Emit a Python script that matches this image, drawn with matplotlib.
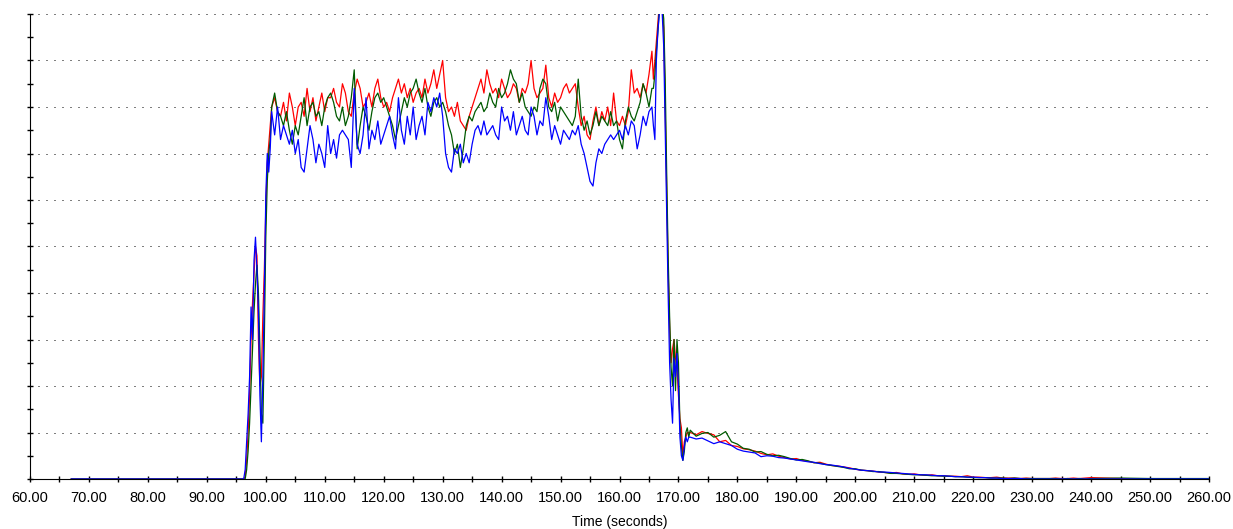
import numpy as np
import matplotlib
matplotlib.use("Agg")
import matplotlib.pyplot as plt
from matplotlib.ticker import MultipleLocator, FormatStrFormatter

# ------------------------------------------------------------
# Datos
# ------------------------------------------------------------
# tramos de tiempo (segundos)
t_base = [67.0, 96.25]
t_subida = np.arange(96.5, 101.0, 0.25)      # 18 muestras
t_meseta = np.arange(101.0, 166.0, 0.5)      # 130 muestras
t_caida = np.arange(165.75, 172.0, 0.25)     # 25 muestras
t_cola = np.arange(172.0, 241.0, 1.0)        # 69 muestras
t_final = [245.0, 250.0, 255.0, 260.0]

# --- serie roja ---
rojo_base = [0, 0]
rojo_subida = [0.5, 4, 10, 18, 30, 38, 44, 50, 48, 30, 20, 22, 35, 45, 58, 68, 72, 76]
rojo_meseta = [
    80, 82, 79, 78, 81, 77, 83, 80, 76, 80,
    81, 78, 84, 79, 82, 77, 80, 83, 79, 82,
    82, 84, 81, 80, 85, 83, 79, 78, 83, 86,
    84, 80, 81, 83, 80, 84, 86, 82, 80, 81,
    79, 82, 84, 86, 83, 85, 82, 84, 81, 83,
    84, 82, 86, 83, 85, 88, 84, 87, 90, 82,
    79, 80, 78, 81, 77, 76, 75, 78, 80, 82,
    84, 86, 83, 88, 85, 83, 84, 82, 86, 84,
    82, 83, 85, 84, 81, 84, 83, 85, 90, 84,
    82, 83, 84, 89, 82, 80, 83, 81, 82, 84,
    85, 83, 84, 85, 80, 76, 78, 74, 73, 77,
    80, 76, 79, 77, 80, 76, 83, 77, 76, 78,
    76, 79, 88, 83, 84, 82, 85, 83, 87, 92,
]
rojo_caida = [86, 90, 94, 98, 102, 104, 101, 97, 80, 62, 45, 33, 25,
              28, 30, 26, 24, 18, 13, 11, 5, 8, 9, 10, 10]
rojo_cola = [
    10, 9.5, 10.2, 9.8, 9.5, 8, 8.3, 7.2, 7, 6.5,
    6.3, 6, 5.5, 5.2, 5.4, 4.9, 4.6, 4.3, 4.4, 4.0,
    3.8, 3.5, 3.6, 3.2, 2.9, 2.8, 2.6, 2.4, 2.1, 1.9,
    1.8, 1.7, 1.5, 1.4, 1.3, 1.4, 1.1, 1.0, 1.1, 0.9,
    0.8, 0.9, 0.7, 0.7, 0.6, 0.6, 0.5, 0.7, 0.4, 0.4,
    0.3, 0.3, 0.4, 0.2, 0.2, 0.2, 0.1, 0.2, 0.1, 0.1,
    0.1, 0.1, 0.2, 0.1, 0.1, 0.2, 0.1, 0.2, 0.3,
]
rojo_final = [0.1, 0, 0, 0]

# --- serie verde ---
verde_base = [0, 0]
verde_subida = [0, 2, 6, 12, 20, 28, 36, 42, 46, 40, 28, 14, 12, 30, 52, 64, 70, 73]
verde_meseta = [
    80, 83, 79, 78, 76, 79, 75, 72, 76, 74,
    78, 82, 76, 80, 81, 78, 79, 76, 80, 82,
    83, 81, 78, 77, 80, 76, 78, 82, 88, 71,
    76, 80, 78, 75, 79, 82, 83, 81, 82, 80,
    78, 76, 73, 76, 79, 82, 80, 83, 84, 86,
    83, 81, 84, 80, 78, 81, 82, 80, 81, 79,
    76, 74, 70, 72, 67, 71, 76, 78, 77, 79,
    80, 81, 79, 80, 83, 81, 80, 84, 82, 83,
    85, 88, 86, 85, 81, 83, 80, 79, 78, 80,
    79, 84, 86, 85, 80, 79, 81, 77, 80, 79,
    78, 77, 76, 78, 86, 78, 75, 77, 74, 76,
    79, 76, 78, 77, 76, 79, 76, 77, 73, 71,
    77, 80, 78, 77, 79, 81, 85, 83, 80, 84,
]
verde_caida = [84, 87, 92, 96, 101, 103, 102, 99, 86, 66, 48, 35, 24,
               20, 30, 19, 30, 25, 12, 7, 4, 6, 10, 11, 9]
verde_cola = [
    10.5, 9.2, 9.8, 10, 9.0, 9.4, 10.2, 8.0, 7.5, 6.6,
    6.4, 5.8, 5.9, 5.3, 5.0, 5.1, 4.8, 4.4, 4.1, 4.2,
    3.9, 3.5, 3.4, 3.1, 2.9, 2.7, 2.5, 2.2, 2.2, 1.9,
    1.8, 1.6, 1.6, 1.4, 1.2, 1.2, 1.1, 1.0, 0.9, 0.9,
    0.8, 0.7, 0.7, 0.6, 0.6, 0.5, 0.5, 0.4, 0.3, 0.3,
    0.3, 0.2, 0.2, 0.2, 0.1, 0.2, 0.1, 0.1, 0.1, 0.1,
    0.1, 0.1, 0.1, 0.0, 0.1, 0.0, 0.1, 0.0, 0.1,
]
verde_final = [0.2, 0.1, 0.1, 0.1]

# --- serie azul ---
azul_base = [0, 0]
azul_subida = [2, 8, 14, 22, 37, 30, 47, 52, 45, 36, 18, 8, 22, 40, 61, 70, 66, 71]
azul_meseta = [
    79, 74, 80, 73, 76, 74, 72, 75, 70, 73,
    67, 66, 71, 76, 73, 68, 72, 70, 67, 76,
    70, 73, 69, 74, 75, 74, 73, 67, 84, 72,
    70, 74, 82, 71, 75, 73, 77, 72, 74, 76,
    78, 74, 71, 82, 75, 72, 78, 74, 80, 73,
    76, 78, 74, 81, 79, 82, 80, 83, 78, 70,
    67, 66, 71, 70, 72, 68, 70, 68, 72, 75,
    76, 74, 77, 74, 75, 76, 74, 73, 80, 77,
    78, 75, 79, 74, 76, 78, 75, 74, 80, 78,
    74, 77, 76, 82, 78, 73, 76, 74, 72, 75,
    74, 73, 75, 74, 76, 72, 70, 67, 64, 63,
    68, 71, 70, 72, 73, 74, 73, 74, 75, 73,
    76, 74, 77, 76, 71, 74, 78, 76, 79, 80,
]
azul_caida = [76, 73, 90, 96, 100, 103, 100, 93, 75, 58, 40, 25, 17,
              12, 26, 22, 27, 20, 9, 5, 4, 7, 9, 8, 9]
azul_cola = [
    9, 8.6, 8.8, 8.2, 7.6, 8.0, 7.6, 7.2, 6.4, 6.0,
    5.8, 5.6, 4.8, 5.0, 4.9, 4.6, 4.5, 4.3, 4.1, 3.9,
    3.7, 3.6, 3.3, 3.1, 3.0, 2.8, 2.6, 2.3, 2.1, 1.9,
    1.8, 1.7, 1.5, 1.5, 1.4, 1.3, 1.2, 1.1, 1.0, 0.9,
    0.9, 0.8, 0.7, 0.7, 0.6, 0.5, 0.5, 0.4, 0.4, 0.3,
    0.3, 0.2, 0.2, 0.1, 0.1, 0.1, 0.1, 0, 0, 0,
    0, 0, 0, 0, 0, 0, 0, 0, 0,
]
azul_final = [0, 0, 0, 0]

# ------------------------------------------------------------
# Unir tramos
# ------------------------------------------------------------
tiempo = np.concatenate([t_base, t_subida, t_meseta, t_caida, t_cola, t_final])
rojo = np.concatenate([rojo_base, rojo_subida, rojo_meseta, rojo_caida, rojo_cola, rojo_final])
verde = np.concatenate([verde_base, verde_subida, verde_meseta, verde_caida, verde_cola, verde_final])
azul = np.concatenate([azul_base, azul_subida, azul_meseta, azul_caida, azul_cola, azul_final])

plt.rcParams["font.family"] = ["Liberation Sans", "DejaVu Sans"]

fig = plt.figure(figsize=(12.33, 5.29), dpi=100)
ax = fig.add_axes([30 / 1233, 50 / 529, 1179 / 1233, 465 / 529])

# Líneas (azul encima)
ax.plot(tiempo, rojo, color="#ff0000", linewidth=0.9, zorder=3)
ax.plot(tiempo, verde, color="#005a00", linewidth=0.9, zorder=3)
ax.plot(tiempo, azul, color="#0000ff", linewidth=0.9, zorder=3)

# Ejes
ax.set_xlim(60, 260)
ax.set_ylim(0, 100)
ax.xaxis.set_major_locator(MultipleLocator(10))
ax.xaxis.set_minor_locator(MultipleLocator(5))
ax.xaxis.set_major_formatter(FormatStrFormatter("%.2f"))
ax.yaxis.set_major_locator(MultipleLocator(10))
ax.yaxis.set_minor_locator(MultipleLocator(5))
ax.set_yticklabels([])

ax.tick_params(axis="both", which="both", direction="inout", length=5,
               width=1, color="black")
ax.tick_params(axis="x", labelsize=10.5, pad=6)

# Cuadrícula punteada horizontal
ax.grid(axis="y", which="major", color="black", linewidth=0.72,
        linestyle=(0, (1, 7)))
ax.set_axisbelow(True)

ax.spines["top"].set_visible(False)
ax.spines["right"].set_visible(False)
ax.spines["left"].set_color("black")
ax.spines["bottom"].set_color("black")

ax.set_xlabel("Time (seconds)", fontsize=10, labelpad=7)

fig.savefig("out.png", dpi=100)
